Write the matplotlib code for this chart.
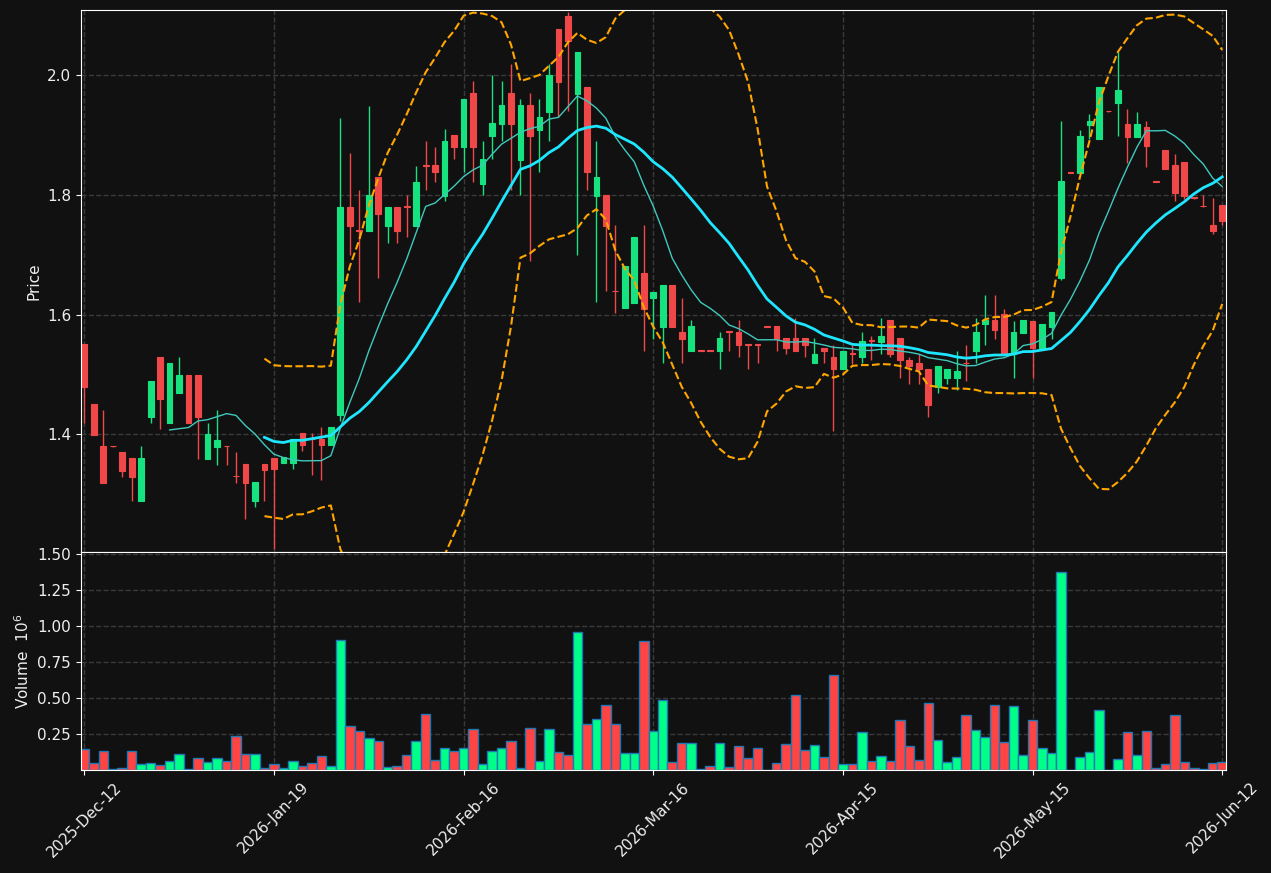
import numpy as np
import pandas as pd
import matplotlib
matplotlib.use('Agg')
import matplotlib.pyplot as plt

# OHLC data (one row per bar), volume in millions
opens = [1.551, 1.450, 1.380, 1.381, 1.370, 1.360, 1.289, 1.429, 1.530, 1.419,
         1.469, 1.500, 1.500, 1.359, 1.379, 1.381, 1.331, 1.350, 1.289, 1.350,
         1.361, 1.352, 1.352, 1.402, 1.393, 1.392, 1.382, 1.432, 1.780, 1.741,
         1.740, 1.830, 1.749, 1.780, 1.781, 1.749, 1.850, 1.850, 1.799, 1.900,
         1.880, 1.970, 1.819, 1.899, 1.919, 1.970, 1.859, 1.950, 1.909, 1.939,
         2.078, 2.099, 1.969, 1.980, 1.799, 1.800, 1.640, 1.611, 1.620, 1.670,
         1.628, 1.579, 1.649, 1.571, 1.539, 1.541, 1.541, 1.539, 1.572, 1.571,
         1.551, 1.551, 1.581, 1.581, 1.561, 1.561, 1.561, 1.519, 1.545, 1.530,
         1.509, 1.536, 1.529, 1.557, 1.554, 1.591, 1.561, 1.525, 1.520, 1.510,
         1.479, 1.494, 1.494, 1.520, 1.539, 1.585, 1.591, 1.601, 1.535, 1.569,
         1.590, 1.544, 1.580, 1.662, 1.838, 1.837, 1.917, 1.894, 1.941, 1.954,
         1.918, 1.897, 1.913, 1.823, 1.875, 1.850, 1.855, 1.796, 1.782, 1.750,
         1.783]
highs = [1.551, 1.450, 1.440, 1.381, 1.370, 1.360, 1.380, 1.490, 1.530, 1.520,
         1.530, 1.500, 1.500, 1.419, 1.440, 1.381, 1.370, 1.350, 1.320, 1.350,
         1.361, 1.363, 1.392, 1.402, 1.402, 1.412, 1.412, 1.929, 1.870, 1.809,
         1.949, 1.830, 1.780, 1.780, 1.800, 1.849, 1.890, 1.880, 1.910, 1.900,
         1.960, 1.990, 1.890, 2.000, 1.990, 2.019, 1.960, 1.970, 1.960, 2.019,
         2.078, 2.105, 2.039, 1.980, 1.890, 1.800, 1.750, 1.681, 1.730, 1.750,
         1.638, 1.649, 1.649, 1.628, 1.591, 1.541, 1.541, 1.571, 1.572, 1.591,
         1.551, 1.551, 1.581, 1.581, 1.561, 1.594, 1.561, 1.561, 1.545, 1.550,
         1.540, 1.550, 1.571, 1.565, 1.595, 1.591, 1.561, 1.529, 1.535, 1.510,
         1.515, 1.510, 1.540, 1.550, 1.595, 1.633, 1.633, 1.610, 1.589, 1.591,
         1.590, 1.585, 1.605, 1.923, 1.838, 1.908, 1.936, 1.980, 1.941, 2.039,
         1.943, 1.938, 1.923, 1.823, 1.875, 1.868, 1.855, 1.796, 1.800, 1.795,
         1.783]
lows = [1.419, 1.399, 1.319, 1.379, 1.329, 1.289, 1.289, 1.419, 1.409, 1.419,
        1.469, 1.419, 1.359, 1.359, 1.349, 1.349, 1.319, 1.259, 1.279, 1.289,
        1.209, 1.352, 1.342, 1.372, 1.332, 1.323, 1.382, 1.422, 1.700, 1.622,
        1.740, 1.661, 1.720, 1.720, 1.730, 1.749, 1.809, 1.821, 1.790, 1.860,
        1.838, 1.821, 1.800, 1.860, 1.890, 1.809, 1.800, 1.690, 1.839, 1.890,
        1.930, 1.940, 1.700, 1.809, 1.622, 1.639, 1.602, 1.611, 1.620, 1.540,
        1.560, 1.519, 1.579, 1.519, 1.539, 1.539, 1.539, 1.509, 1.539, 1.529,
        1.509, 1.519, 1.579, 1.540, 1.534, 1.539, 1.529, 1.519, 1.519, 1.405,
        1.509, 1.518, 1.520, 1.525, 1.535, 1.529, 1.494, 1.484, 1.484, 1.429,
        1.469, 1.485, 1.474, 1.489, 1.519, 1.550, 1.560, 1.535, 1.494, 1.569,
        1.495, 1.544, 1.560, 1.658, 1.836, 1.837, 1.894, 1.894, 1.939, 1.898,
        1.853, 1.897, 1.847, 1.821, 1.844, 1.790, 1.794, 1.794, 1.780, 1.735,
        1.750]
closes = [1.479, 1.399, 1.319, 1.380, 1.339, 1.329, 1.360, 1.490, 1.459, 1.520,
          1.500, 1.419, 1.429, 1.400, 1.390, 1.380, 1.330, 1.319, 1.320, 1.340,
          1.342, 1.363, 1.392, 1.382, 1.392, 1.382, 1.412, 1.780, 1.749, 1.740,
          1.800, 1.769, 1.780, 1.740, 1.780, 1.821, 1.849, 1.839, 1.890, 1.880,
          1.960, 1.880, 1.860, 1.920, 1.950, 1.919, 1.950, 1.899, 1.930, 2.000,
          1.989, 2.058, 2.039, 1.839, 1.830, 1.749, 1.639, 1.681, 1.730, 1.610,
          1.638, 1.649, 1.579, 1.559, 1.581, 1.540, 1.540, 1.561, 1.571, 1.549,
          1.550, 1.550, 1.580, 1.559, 1.544, 1.539, 1.549, 1.535, 1.539, 1.509,
          1.540, 1.535, 1.556, 1.556, 1.565, 1.534, 1.524, 1.514, 1.509, 1.449,
          1.515, 1.510, 1.506, 1.519, 1.571, 1.591, 1.575, 1.535, 1.571, 1.591,
          1.544, 1.585, 1.605, 1.823, 1.837, 1.898, 1.923, 1.980, 1.940, 1.975,
          1.897, 1.918, 1.882, 1.822, 1.844, 1.804, 1.799, 1.795, 1.781, 1.739,
          1.757]
volumes = [0.149, 0.051, 0.131, 0.005, 0.012, 0.131, 0.040, 0.047, 0.033, 0.061,
           0.110, 0.005, 0.082, 0.054, 0.082, 0.061, 0.236, 0.110, 0.110, 0.012,
           0.040, 0.012, 0.061, 0.026, 0.047, 0.096, 0.026, 0.901, 0.306, 0.275,
           0.226, 0.205, 0.019, 0.026, 0.103, 0.205, 0.390, 0.068, 0.156, 0.131,
           0.156, 0.285, 0.040, 0.131, 0.156, 0.205, 0.012, 0.292, 0.061, 0.285,
           0.124, 0.103, 0.957, 0.320, 0.355, 0.453, 0.320, 0.117, 0.117, 0.894,
           0.271, 0.488, 0.054, 0.187, 0.187, 0.005, 0.026, 0.187, 0.019, 0.166,
           0.082, 0.152, 0.003, 0.047, 0.180, 0.523, 0.138, 0.173, 0.089, 0.663,
           0.040, 0.040, 0.264, 0.061, 0.096, 0.061, 0.348, 0.166, 0.068, 0.467,
           0.208, 0.054, 0.089, 0.383, 0.278, 0.229, 0.453, 0.194, 0.446, 0.103,
           0.348, 0.152, 0.117, 1.377, 0.003, 0.089, 0.124, 0.418, 0.003, 0.075,
           0.264, 0.103, 0.271, 0.012, 0.040, 0.383, 0.054, 0.012, 0.005, 0.047,
           0.054]
tick_labels = ['2025-Dec-12', '2026-Jan-19', '2026-Feb-16', '2026-Mar-16',
               '2026-Apr-15', '2026-May-15', '2026-Jun-12']

df = pd.DataFrame({'Open': opens, 'High': highs, 'Low': lows,
                   'Close': closes, 'Volume': volumes})
x = np.arange(len(df))

# indicators
ma10 = df['Close'].rolling(10).mean()
ma20 = df['Close'].rolling(20).mean()
std20 = df['Close'].rolling(20).std()
upper = ma20 + 2 * std20
lower = ma20 - 2 * std20

bg = '#111111'
up_c, down_c = '#16e27f', '#f04848'
vol_up, vol_down = '#00ff88', '#ff4444'
up = df['Close'] >= df['Open']

fig = plt.figure(figsize=(12.71, 8.73), dpi=100, facecolor=bg)
ax = fig.add_axes([0.0637, 0.3677, 0.9009, 0.6208])
axv = fig.add_axes([0.0637, 0.118, 0.9009, 0.2497], sharex=ax)

for a in (ax, axv):
    a.set_facecolor(bg)
    for s in a.spines.values():
        s.set_color('white')
    a.tick_params(colors='white', labelsize=11, labelcolor='#eeeeee')
    a.grid(True, color='#3a3a3a', linestyle='--', linewidth=1)
    a.set_axisbelow(True)

# candles
colors = np.where(up, up_c, down_c)
ax.vlines(x, df['Low'], df['High'], colors=colors, linewidth=1)
body_lo = np.minimum(df['Open'], df['Close'])
body_h = (df['Close'] - df['Open']).abs()
ax.bar(x, body_h, bottom=body_lo, width=0.6, color=colors,
       edgecolor=colors, linewidth=0.8)

ax.plot(x, ma10, color='#3fc9bd', linewidth=1)
ax.plot(x, ma20, color='#1fe6ff', linewidth=2)
ax.plot(x, upper, color='#ffa500', linestyle='--', linewidth=1.5)
ax.plot(x, lower, color='#ffa500', linestyle='--', linewidth=1.5)

ax.set_ylim(1.2035, 2.109)
ax.set_ylabel('Price', color='#eeeeee', fontsize=11)
ax.tick_params(axis='x', labelbottom=False, length=0)

# volume
vcolors = np.where(up, vol_up, vol_down)
axv.bar(x, df['Volume'], width=1.0, color=vcolors, edgecolor='#1f77b4',
        linewidth=1)
axv.set_ylim(0.3 * df['Volume'].min(), 1.1 * df['Volume'].max())
axv.set_yticks([0.25, 0.5, 0.75, 1.0, 1.25, 1.5])
axv.set_yticklabels(['0.25', '0.50', '0.75', '1.00', '1.25', '1.50'])
axv.set_ylabel('Volume  $10^6$', color='#eeeeee', fontsize=11)

ticks = np.arange(0, len(df), 20)
axv.set_xticks(ticks)
axv.set_xticklabels(tick_labels, rotation=45)
axv.set_xlim(-0.35, len(df) - 0.6)

fig.savefig('out.png', facecolor=bg)
